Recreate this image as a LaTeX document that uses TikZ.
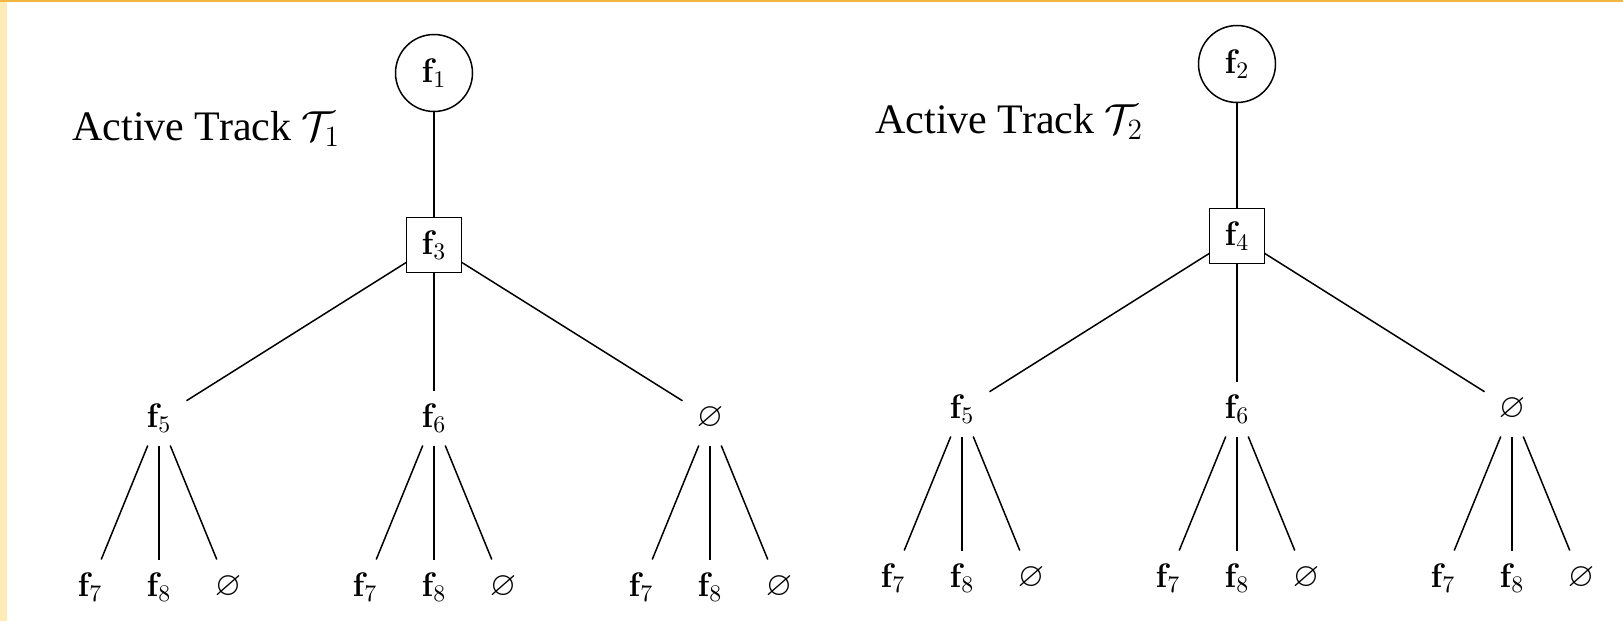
\RequirePackage{fix-cm}
\documentclass[tikz,border=0pt]{standalone}
\usepackage{amssymb}
\usepackage[no-math]{fontspec}
\setmainfont{Liberation Serif}
\usetikzlibrary{calc}
\definecolor{pagestrip}{HTML}{FCEBB5}
\definecolor{pageedge}{HTML}{F2B640}
\tikzset{
  feat/.style={font=\fontsize{17}{20}\selectfont, inner sep=0pt, outer sep=0pt, minimum size=27.5pt},
  rootnode/.style={feat, circle, draw, line width=0.75pt, minimum size=38.5pt},
  midnode/.style={feat, rectangle, draw, line width=0.75pt},
  plain/.style={feat, rectangle},
  link/.style={line width=0.75pt},
  title/.style={font=\fontsize{21}{25}\selectfont, anchor=base west, inner sep=0pt}
}
\begin{document}
\begin{tikzpicture}[x=0.5pt,y=-0.5pt]
\useasboundingbox (0,0) rectangle (1623,621);
\fill[white] (0,0) rectangle (1623,621);
\fill[pagestrip] (0,0) rectangle (7,621);
\fill[pageedge] (0,0) rectangle (1623,2);

% titles
\node[title] (t1) at (72,140) {Active Track $\mathcal{T}_1$};
\node[title] (t2) at (875,133) {Active Track $\mathcal{T}_2$};

% first tree
\node[rootnode] (L1) at (434,73) {$\mathbf{f}_1$};
\node[midnode]  (L3) at (434,245) {$\mathbf{f}_3$};
\node[plain] (L5) at (159,418) {$\mathbf{f}_5$};
\node[plain] (L6) at (434,418) {$\mathbf{f}_6$};
\node[plain] (L0) at (710,418) {$\varnothing$};

% second tree
\node[rootnode] (R2) at (1237,64) {$\mathbf{f}_2$};
\node[midnode]  (R4) at (1237,236) {$\mathbf{f}_4$};
\node[plain] (R5) at (962,409) {$\mathbf{f}_5$};
\node[plain] (R6) at (1237,409) {$\mathbf{f}_6$};
\node[plain] (R0) at (1512,409) {$\varnothing$};

\draw[link] (L1) -- (L3);
\draw[link] (L3) -- (L5);
\draw[link] (L3) -- (L6);
\draw[link] (L3) -- (L0);
\draw[link] (R2) -- (R4);
\draw[link] (R4) -- (R5);
\draw[link] (R4) -- (R6);
\draw[link] (R4) -- (R0);

% leaves under every second-level node
\foreach \p in {L5,L6,L0,R5,R6,R0} {
  \node[plain] (\p-7) at ($(\p)+(-69,169)$) {$\mathbf{f}_7$};
  \node[plain] (\p-8) at ($(\p)+(0,169)$) {$\mathbf{f}_8$};
  \node[plain] (\p-e) at ($(\p)+(69,169)$) {$\varnothing$};
  \draw[link] (\p) -- (\p-7);
  \draw[link] (\p) -- (\p-8);
  \draw[link] (\p) -- (\p-e);
}
\end{tikzpicture}
\end{document}
